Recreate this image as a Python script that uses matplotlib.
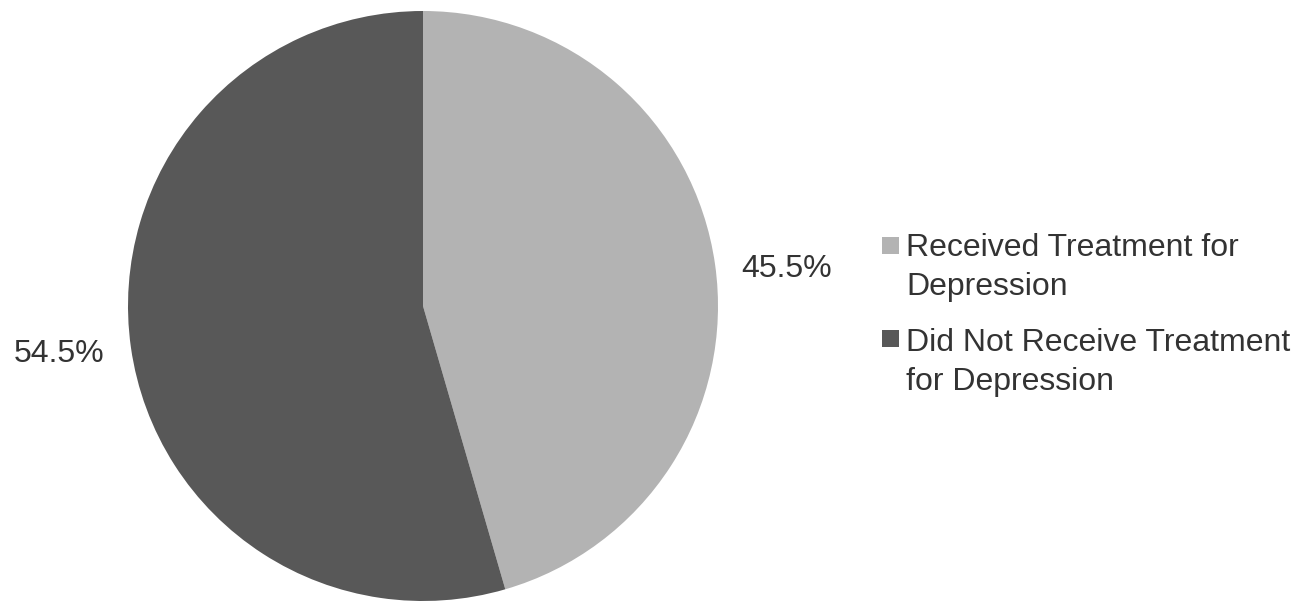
import matplotlib

matplotlib.use("Agg")
import matplotlib.pyplot as plt
from matplotlib.patches import Rectangle

# ----- data ----------------------------------------------------------------
CATEGORIES = ["Received Treatment for\nDepression",
              "Did Not Receive Treatment\nfor Depression"]
SHARES = [45.5, 54.5]
COLORS = ["#b3b3b3", "#585858"]
# ---------------------------------------------------------------------------

W, H = 1307, 603
CX, CY, R = 423, 306, 295          # pie centre / radius in pixels
FS = 23

plt.rcParams["font.family"] = ["Liberation Sans", "DejaVu Sans"]

fig = plt.figure(figsize=(W / 100, H / 100), dpi=100)
ax = fig.add_axes([0, 0, 1, 1])

wedges, texts = ax.pie(SHARES, colors=COLORS, startangle=90, counterclock=False,
                       labels=[f"{v:.1f}%" for v in SHARES], labeldistance=1.09,
                       textprops=dict(fontsize=FS, color="#333333"),
                       wedgeprops=dict(linewidth=0), frame=True)
ax.set_xlim(-CX / R, (W - CX) / R)
ax.set_ylim(-(H - CY) / R, CY / R)
ax.set_aspect("equal")
ax.axis("off")

# nudge the percentage labels to where they sit in the original
for t, dy in zip(texts, (-8, -3)):
    x, y = t.get_position()
    t.set_position((x, y + dy / R))

# legend drawn by hand so the square lines up with the first text line
sq = 17
sq_top = [237, 330]                 # pixel y of square tops
last_baseline = [295, 390]          # pixel y of each label's last baseline
for top, base, lab, col in zip(sq_top, last_baseline, CATEGORIES, COLORS):
    fig.patches.append(Rectangle((882 / W, 1 - (top + sq) / H), sq / W, sq / H,
                                 transform=fig.transFigure, facecolor=col,
                                 edgecolor="none"))
    fig.text(906 / W, 1 - base / H, lab, fontsize=FS, color="#333333",
             ha="left", va="baseline", linespacing=1.37)

fig.savefig("out.png", dpi=100)
